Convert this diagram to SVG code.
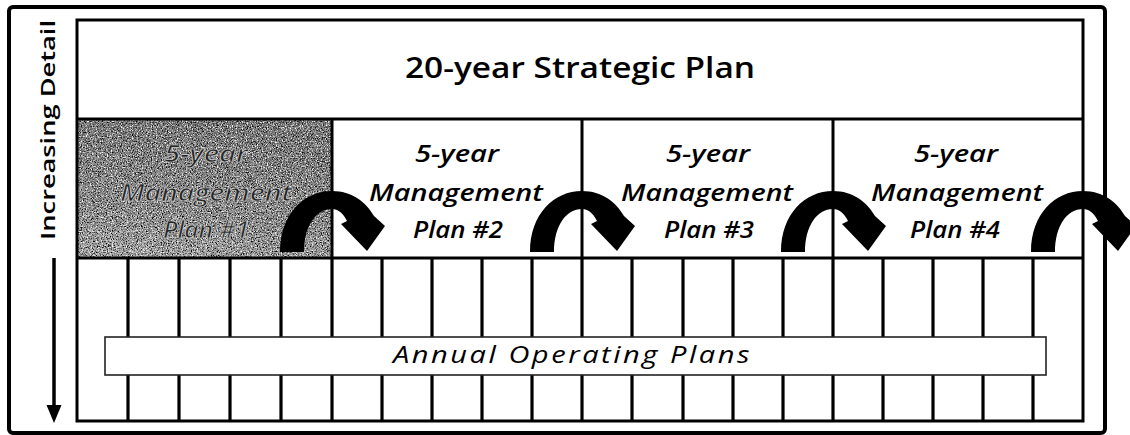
<svg xmlns="http://www.w3.org/2000/svg" width="1130" height="435" viewBox="0 0 1130 435">
  <style>
    .frame { fill: none; stroke: #000; stroke-width: 4; }
    .box { fill: none; stroke: #000; stroke-width: 3; }
    .rule { stroke: #000; stroke-width: 3; }
    .col { stroke: #000; stroke-width: 3.2; }
    .title { font-family: "Open Sans", "Liberation Sans", sans-serif; font-size: 29px; font-weight: 600; fill: #000; text-anchor: middle; }
    .plan { font-family: "Open Sans", "Liberation Sans", sans-serif; font-size: 24px; font-style: italic; font-weight: 600; fill: #000; text-anchor: middle; }
    .plan-dim { fill: #262626; stroke: #d0d0d0; stroke-width: 0.7; }
    .side { font-family: "Open Sans", "Liberation Sans", sans-serif; font-size: 20px; font-weight: 600; fill: #000; text-anchor: middle; }
    .annual { font-family: "Open Sans", "Liberation Sans", sans-serif; font-size: 23px; font-style: italic; font-weight: 500; fill: #000; letter-spacing: 2px; }
    .bend { fill: #000; }
  </style>
  <defs>
    <!-- dark and light speckle used on the shaded first plan cell -->
    <filter id="grain-dark" x="0" y="0" width="100%" height="100%">
      <feTurbulence type="fractalNoise" baseFrequency="0.8" numOctaves="2" seed="7" result="noise"/>
      <feColorMatrix in="noise" type="matrix" values="0 0 0 0 0  0 0 0 0 0  0 0 0 0 0  3.2 0 0 0 -1.45" result="dots"/>
      <feComposite in="dots" in2="SourceGraphic" operator="in"/>
    </filter>
    <filter id="grain-light" x="0" y="0" width="100%" height="100%">
      <feTurbulence type="fractalNoise" baseFrequency="0.8" numOctaves="2" seed="19" result="noise"/>
      <feColorMatrix in="noise" type="matrix" values="0 0 0 0 1  0 0 0 0 1  0 0 0 0 1  3.2 0 0 0 -1.55" result="dots"/>
      <feComposite in="dots" in2="SourceGraphic" operator="in"/>
    </filter>
    <linearGradient id="shade" x1="0.2" y1="0" x2="0" y2="1">
      <stop offset="0" stop-color="#7a7a7a"/>
      <stop offset="0.6" stop-color="#909090"/>
      <stop offset="1" stop-color="#b0b0b0"/>
    </linearGradient>
    <!-- bent arrow over a divider, drawn with the divider at x=0 -->
    <path id="bend" d="M -52 252 C -52 214 -28 191 0 191 C 20 191 34 202 42 216 L 53 226 L 35 251 L 9 224 L 15 221 C 11 213 6 209 0 209 C -16 209 -28 226 -28 252 Z"/>
  </defs>

  <rect width="1130" height="435" fill="#fff"/>

  <!-- outer frame -->
  <rect id="frame" class="frame" x="9" y="7" width="1096" height="426" rx="4"/>

  <!-- side label with downward arrow -->
  <g id="detail-axis">
    <text class="side" transform="translate(55,130) rotate(-90)" textLength="220" lengthAdjust="spacingAndGlyphs">Increasing  Detail</text>
    <line x1="54" y1="258" x2="54" y2="408" stroke="#000" stroke-width="3.5"/>
    <polygon points="46.5,405 61.5,405 54,423" fill="#000"/>
  </g>

  <!-- strategic plan band -->
  <g id="strategic-plan">
    <text class="title" x="580" y="78" textLength="350" lengthAdjust="spacingAndGlyphs">20-year Strategic Plan</text>
  </g>

  <!-- management plan #1 (shaded) -->
  <g id="mgmt-plan-1">
    <rect x="77" y="119" width="255" height="139" fill="url(#shade)"/>
    <rect x="77" y="119" width="255" height="139" fill="#000" filter="url(#grain-dark)"/>
    <rect x="77" y="119" width="255" height="139" fill="#000" filter="url(#grain-light)"/>
    <text class="plan plan-dim" x="206" y="162" textLength="84" lengthAdjust="spacingAndGlyphs">5-year</text>
    <text class="plan plan-dim" x="206" y="201" textLength="172" lengthAdjust="spacingAndGlyphs">Management</text>
    <text class="plan plan-dim" x="206" y="238" textLength="86" lengthAdjust="spacingAndGlyphs">Plan #1</text>
  </g>

  <g id="mgmt-plan-2">
    <text class="plan" x="457" y="162" textLength="84" lengthAdjust="spacingAndGlyphs">5-year</text>
    <text class="plan" x="456" y="201" textLength="174" lengthAdjust="spacingAndGlyphs">Management</text>
    <text class="plan" x="458" y="238" textLength="90" lengthAdjust="spacingAndGlyphs">Plan #2</text>
  </g>

  <g id="mgmt-plan-3">
    <text class="plan" x="708" y="162" textLength="84" lengthAdjust="spacingAndGlyphs">5-year</text>
    <text class="plan" x="707" y="201" textLength="172" lengthAdjust="spacingAndGlyphs">Management</text>
    <text class="plan" x="709" y="238" textLength="90" lengthAdjust="spacingAndGlyphs">Plan #3</text>
  </g>

  <g id="mgmt-plan-4">
    <text class="plan" x="956" y="162" textLength="84" lengthAdjust="spacingAndGlyphs">5-year</text>
    <text class="plan" x="957" y="201" textLength="172" lengthAdjust="spacingAndGlyphs">Management</text>
    <text class="plan" x="955" y="238" textLength="90" lengthAdjust="spacingAndGlyphs">Plan #4</text>
  </g>

  <!-- grid of annual columns -->
  <g id="annual-grid">
    <line class="col" x1="128" y1="258" x2="128" y2="421"/>
    <line class="col" x1="179" y1="258" x2="179" y2="421"/>
    <line class="col" x1="230" y1="258" x2="230" y2="421"/>
    <line class="col" x1="281" y1="258" x2="281" y2="421"/>
    <line class="col" x1="332" y1="258" x2="332" y2="421"/>
    <line class="col" x1="382" y1="258" x2="382" y2="421"/>
    <line class="col" x1="432" y1="258" x2="432" y2="421"/>
    <line class="col" x1="482" y1="258" x2="482" y2="421"/>
    <line class="col" x1="532" y1="258" x2="532" y2="421"/>
    <line class="col" x1="582" y1="258" x2="582" y2="421"/>
    <line class="col" x1="632" y1="258" x2="632" y2="421"/>
    <line class="col" x1="683" y1="258" x2="683" y2="421"/>
    <line class="col" x1="733" y1="258" x2="733" y2="421"/>
    <line class="col" x1="783" y1="258" x2="783" y2="421"/>
    <line class="col" x1="833" y1="258" x2="833" y2="421"/>
    <line class="col" x1="883" y1="258" x2="883" y2="421"/>
    <line class="col" x1="933" y1="258" x2="933" y2="421"/>
    <line class="col" x1="983" y1="258" x2="983" y2="421"/>
    <line class="col" x1="1033" y1="258" x2="1033" y2="421"/>
  </g>

  <!-- annual operating plans bar -->
  <g id="annual-plans">
    <rect x="105" y="337" width="941" height="38" fill="#fff" stroke="#222" stroke-width="1.6"/>
    <text class="annual" x="393" y="363" textLength="359" lengthAdjust="spacingAndGlyphs">Annual  Operating  Plans</text>
  </g>

  <!-- main box and band rules -->
  <g id="structure">
    <rect class="box" x="77" y="20" width="1006" height="401"/>
    <line class="rule" x1="77" y1="119" x2="1083" y2="119"/>
    <line class="rule" x1="77" y1="258" x2="1083" y2="258"/>
    <line class="rule" x1="332" y1="119" x2="332" y2="258"/>
    <line class="rule" x1="582" y1="119" x2="582" y2="258"/>
    <line class="rule" x1="833" y1="119" x2="833" y2="258"/>
  </g>

  <!-- hand-over arrows between plan periods -->
  <g id="connectors">
    <use href="#bend" class="bend" x="332" y="0"/>
    <use href="#bend" class="bend" x="582" y="0"/>
    <use href="#bend" class="bend" x="833" y="0"/>
    <use href="#bend" class="bend" x="1083" y="0"/>
  </g>
</svg>
